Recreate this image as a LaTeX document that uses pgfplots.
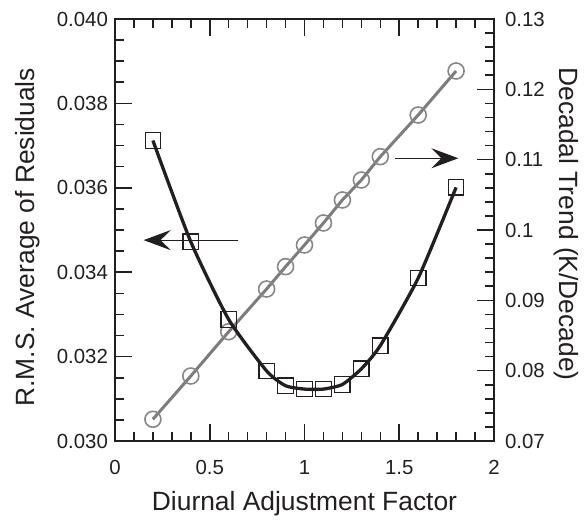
\documentclass[border=0pt]{standalone}
\usepackage{fontspec}
\setmainfont{Liberation Sans}
\usepackage{pgfplots}
\pgfplotsset{compat=1.18}
\usetikzlibrary{arrows.meta}

\definecolor{inkblack}{RGB}{35,31,32}
\definecolor{trendgray}{RGB}{125,125,125}
\definecolor{circgray}{RGB}{135,135,135}

\tikzset{labelfont/.style={font=\fontsize{13.2}{15}\selectfont, text=inkblack}}

\pgfplotsset{
  commonaxis/.style={
    at={(57.5pt,42pt)}, anchor=south west,
    scale only axis, width=189.5pt, height=211pt,
    xmin=0, xmax=2,
    tick align=inside,
    major tick length=8.5pt, minor tick length=4.5pt,
    every tick/.style={inkblack,line width=0.8pt},
    axis line style={inkblack,line width=1.35pt},
    ticklabel style={font=\fontsize{10.2}{12}\selectfont,inkblack},
    scaled ticks=false,
    clip=false,
  },
}

\begin{document}
\begin{tikzpicture}
\useasboundingbox (0,0) rectangle (292pt,262.5pt);

% right axis: decadal trend (circles)
\begin{axis}[
    commonaxis,
    axis x line=none, axis y line*=right,
    ymin=0.07, ymax=0.13,
    ytick={0.07,0.08,0.09,0.10,0.11,0.12,0.13},
    yticklabels={0.07,0.08,0.09,0.1,0.11,0.12,0.13},
    minor y tick num=4,
    yticklabel style={xshift=2pt},
    ylabel={Decadal Trend (K/Decade)},
    every axis y label/.style={at={(axis description cs:1,0.514)},
      xshift=32.5pt, rotate=-90, anchor=base, labelfont},
  ]
  \addplot[trendgray, line width=1.5pt, mark=o, mark size=4pt,
    mark options={circgray, line width=0.8pt, fill=none}] coordinates {
    (0.2,0.07309)(0.4,0.07924)(0.6,0.08554)(0.8,0.09161)(0.9,0.09479)
    (1.0,0.09787)(1.1,0.10100)(1.2,0.10427)(1.3,0.10711)(1.4,0.11043)
    (1.6,0.11635)(1.8,0.12261)};
\end{axis}

% left axis: RMS residuals (squares)
\begin{axis}[
    commonaxis,
    ymin=0.030, ymax=0.040,
    xtick={0,0.5,1,1.5,2},
    xticklabels={0,0.5,1,1.5,2},
    minor x tick num=4,
    xticklabel style={yshift=-6pt},
    ytick={0.030,0.032,0.034,0.036,0.038,0.040},
    yticklabels={0.030,0.032,0.034,0.036,0.038,0.040},
    minor y tick num=3,
    ytick pos=left,
    xlabel={Diurnal Adjustment Factor},
    every axis x label/.style={at={(axis description cs:0.5,0)},
      yshift=-34.5pt, anchor=base, labelfont},
    ylabel={R.M.S. Average of Residuals},
    every axis y label/.style={at={(axis description cs:0,0.483)},
      xshift=-40pt, rotate=90, anchor=base, labelfont},
  ]
  \addplot[inkblack, line width=1.65pt, smooth, tension=0.35, mark=square, mark size=3.85pt,
    mark options={inkblack, line width=0.65pt, fill=none}] coordinates {
    (0.2,0.03712)(0.4,0.03472)(0.6,0.03288)(0.8,0.03166)(0.9,0.03131)
    (1.0,0.03123)(1.1,0.03123)(1.2,0.03134)(1.3,0.03171)(1.4,0.03226)
    (1.6,0.03386)(1.8,0.03601)};
  % arrows pointing to the matching axis
  \draw[inkblack, line width=0.6pt, -{Stealth[length=13.5pt,width=10pt,inset=5pt]}]
    (axis cs:0.651,0.03476) -- (axis cs:0.151,0.03476);
  \draw[inkblack, line width=0.6pt, -{Stealth[length=13.5pt,width=10pt,inset=5pt]}]
    (axis cs:1.478,0.03670) -- (axis cs:1.812,0.03670);
\end{axis}
\end{tikzpicture}
\end{document}
